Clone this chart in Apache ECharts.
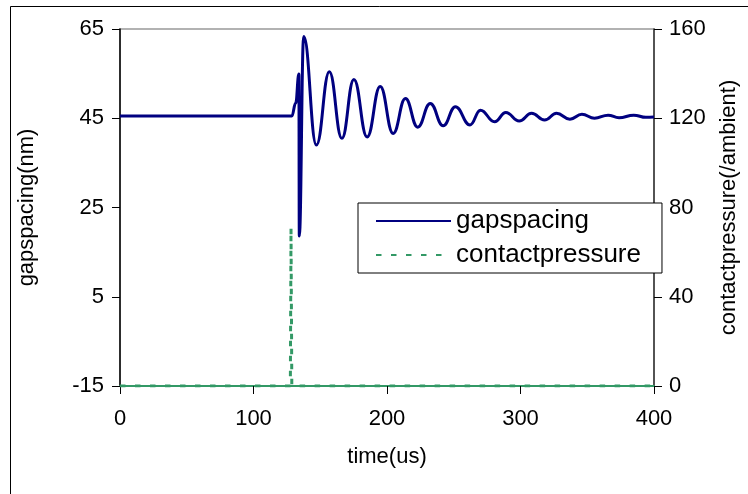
<!DOCTYPE html>
<html>
<head>
<meta charset="utf-8">
<script src="https://cdn.jsdelivr.net/npm/echarts@6/dist/echarts.min.js"></script>
<style>
  html, body { margin: 0; padding: 0; background: #fff; overflow: hidden; }
  #chart { width: 748px; height: 494px; }
</style>
</head>
<body>
<div id="chart"></div>
<script>
// time axis samples (us) and gap spacing (nm)
var gapTime = [0, 128.7, 131.6, 134.0, 134.3, 137.6, 147.1, 156.8, 166.2, 175.2, 185.1,
  194.9, 204.6, 213.8, 223.0, 232.4, 242.1, 251.2, 262.2, 270.0, 280.6, 289.0, 299.0,
  308.3, 318.0, 327.0, 337.0, 346.0, 355.4, 365.6, 373.8, 384.8, 394.0, 400];
var gapSpacing = [45.5, 45.5, 48.4, 54.9, 18.6, 63.3, 39.0, 55.4, 40.5, 53.7, 40.8,
  52.1, 41.6, 49.4, 43.0, 48.3, 43.3, 47.6, 43.5, 46.8, 44.2, 46.3, 44.4,
  46.1, 44.6, 46.1, 44.8, 45.9, 45.0, 45.7, 45.1, 45.7, 45.2, 45.3];

// contact pressure pulse (/ambient)
var cpTime = [0, 127.6, 128.1, 128.7, 400];
var contactPressure = [0, 0, 71, 0, 0];

var gapTicks = [-15, 5, 25, 45, 65];
var cpTicks = [0, 40, 80, 120, 160];
var timeTicks = [0, 100, 200, 300, 400];

function pairs(xs, ys) {
  return xs.map(function (x, i) { return [x, ys[i]]; });
}

var FONT = 'Liberation Sans, Arial, sans-serif';
var navy = '#000080';
var green = '#339966';

var chart = echarts.init(document.getElementById('chart'), null, { renderer: 'canvas' });

chart.setOption({
  animation: false,
  backgroundColor: '#fff',
  textStyle: { fontFamily: FONT },
  graphic: [{
    type: 'rect',
    shape: { x: 10.5, y: 6.5, width: 800, height: 600 },
    style: { fill: null, stroke: '#000', lineWidth: 1 },
    z: -10
  }],
  grid: {
    left: 120, right: 84, top: 29, bottom: 108,
    show: true, borderColor: '#999', borderWidth: 1.5, backgroundColor: '#fff'
  },
  legend: {
    orient: 'vertical',
    left: 358, top: 203,
    padding: [5, 21, 5, 17],
    itemGap: 8,
    itemWidth: 75, itemHeight: 14,
    backgroundColor: '#fff',
    borderColor: '#000', borderWidth: 1,
    itemStyle: { opacity: 0, borderWidth: 0 },
    textStyle: { fontFamily: FONT, fontSize: 26, color: '#000' },
    data: ['gapspacing', 'contactpressure']
  },
  xAxis: {
    type: 'value', min: timeTicks[0], max: timeTicks[timeTicks.length - 1], interval: 100,
    name: 'time(us)', nameLocation: 'middle', nameGap: 60,
    nameTextStyle: { fontFamily: FONT, fontSize: 22, color: '#000' },
    axisLine: { show: true, onZero: false, lineStyle: { color: green, width: 2 } },
    axisTick: { show: true, length: 8, lineStyle: { color: '#000', width: 1 } },
    axisLabel: { fontFamily: FONT, fontSize: 22, color: '#000', margin: 22 },
    splitLine: { show: false }
  },
  yAxis: [{
    type: 'value', min: gapTicks[0], max: gapTicks[gapTicks.length - 1], interval: 20,
    position: 'left',
    name: 'gapspacing(nm)', nameLocation: 'middle', nameGap: 82, nameRotate: 90,
    nameTextStyle: { fontFamily: FONT, fontSize: 22, color: '#000' },
    axisLine: { show: true, onZero: false, lineStyle: { color: '#000', width: 1.5 } },
    axisTick: { show: true, length: 8, lineStyle: { color: '#000', width: 1 } },
    axisLabel: { fontFamily: FONT, fontSize: 22, color: '#000', margin: 16 },
    splitLine: { show: false }
  }, {
    type: 'value', min: cpTicks[0], max: cpTicks[cpTicks.length - 1], interval: 40,
    position: 'right',
    name: 'contactpressure(/ambient)', nameLocation: 'middle', nameGap: 64, nameRotate: 90,
    nameTextStyle: { fontFamily: FONT, fontSize: 22, color: '#000' },
    axisLine: { show: true, onZero: false, lineStyle: { color: '#333', width: 1.5 } },
    axisTick: { show: true, length: 8, lineStyle: { color: '#000', width: 1 } },
    axisLabel: { fontFamily: FONT, fontSize: 22, color: '#000', margin: 15 },
    splitLine: { show: false }
  }],
  series: [{
    name: 'gapspacing',
    type: 'line',
    yAxisIndex: 0,
    data: pairs(gapTime, gapSpacing),
    showSymbol: false, symbol: 'none',
    smooth: 0.45, smoothMonotone: 'x',
    lineStyle: { color: navy, width: 3 },
    itemStyle: { color: navy },
    z: 3
  }, {
    name: 'contactpressure',
    type: 'line',
    yAxisIndex: 1,
    data: pairs(cpTime, contactPressure),
    showSymbol: false, symbol: 'none',
    lineStyle: { color: green, width: 3, type: [5.5, 9.5] },
    itemStyle: { color: green },
    z: 4
  }]
});
</script>
</body>
</html>
